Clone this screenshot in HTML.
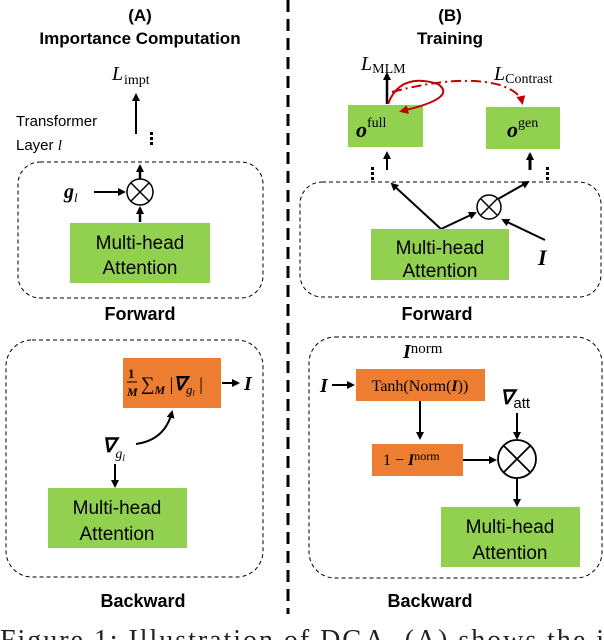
<!DOCTYPE html>
<html><head><meta charset="utf-8"><style>
body{margin:0;background:#fff}
svg{display:block}
.s{font-family:"Liberation Sans",sans-serif}
.m{font-family:"Liberation Serif",serif}
</style></head><body>
<svg width="604" height="640" viewBox="0 0 604 640" xmlns="http://www.w3.org/2000/svg">
<defs>
<marker id="a" markerWidth="8" markerHeight="8" refX="6" refY="4" orient="auto" markerUnits="userSpaceOnUse"><path d="M0,0 L8,4 L0,8 z" fill="#000"/></marker>
<marker id="r" markerWidth="9" markerHeight="9" refX="6" refY="4.5" orient="auto" markerUnits="userSpaceOnUse"><path d="M0,0 L9,4.5 L0,9 z" fill="#c00000"/></marker>
</defs>
<line x1="288" y1="0" x2="288" y2="614" stroke="#000" stroke-width="3" stroke-dasharray="12,7"/>

<!-- A -->
<text x="140" y="21" class="s" font-size="17" font-weight="bold" text-anchor="middle">(A)</text>
<text x="140" y="44" class="s" font-size="17" font-weight="bold" text-anchor="middle">Importance Computation</text>
<text x="112" y="80" class="m" font-size="20" font-style="italic">L</text>
<text x="124" y="84" class="m" font-size="14">impt</text>
<line x1="136" y1="134" x2="136" y2="95" stroke="#000" stroke-width="2" marker-end="url(#a)"/>
<text x="16" y="126" class="s" font-size="15">Transformer</text>
<text x="16" y="150" class="s" font-size="15">Layer <tspan class="m" font-style="italic">l</tspan></text>
<g fill="#000"><rect x="150" y="132" width="3" height="3"/><rect x="150" y="137" width="3" height="3"/><rect x="150" y="142" width="3" height="3"/></g>
<rect x="18" y="162" width="245" height="136" rx="22" fill="none" stroke="#000" stroke-dasharray="4,3"/>
<line x1="140" y1="179" x2="140" y2="166" stroke="#000" stroke-width="2.5" marker-end="url(#a)"/>
<circle cx="140" cy="192" r="13" fill="#fff" stroke="#000" stroke-width="1.5"/>
<path d="M131,183 L149,201 M149,183 L131,201" stroke="#000" stroke-width="1.5"/>
<text x="64" y="198" class="m" font-size="20" font-weight="bold" font-style="italic">g<tspan font-size="13" dy="4" font-weight="normal">l</tspan></text>
<line x1="94" y1="192" x2="124" y2="192" stroke="#000" stroke-width="2" marker-end="url(#a)"/>
<line x1="140" y1="222" x2="140" y2="208" stroke="#000" stroke-width="2.5" marker-end="url(#a)"/>
<rect x="70" y="223" width="140" height="60" fill="#92d050"/>
<text x="140" y="249" class="s" font-size="19" text-anchor="middle">Multi-head</text>
<text x="140" y="274" class="s" font-size="19" text-anchor="middle">Attention</text>
<text x="140" y="320" class="s" font-size="18" font-weight="bold" text-anchor="middle">Forward</text>

<rect x="6" y="340" width="257" height="237" rx="26" fill="none" stroke="#000" stroke-dasharray="4,3"/>
<rect x="123" y="358" width="98" height="50" fill="#ed7d31"/>
<text x="128" y="378" class="m" font-size="13" font-weight="bold">1</text>
<line x1="127" y1="382" x2="137" y2="382" stroke="#000" stroke-width="1"/>
<text x="127" y="396" class="m" font-size="12" font-weight="bold" font-style="italic">M</text>
<text x="141" y="390" class="m" font-size="19">∑<tspan font-size="12" dy="4" font-style="italic" font-weight="bold">M</tspan><tspan dy="-4" font-size="18"> |</tspan><tspan font-weight="bold" font-style="italic">∇</tspan><tspan font-size="13" dy="4" font-style="italic">g</tspan><tspan font-size="8" dy="2" font-style="italic">l</tspan><tspan font-size="18" dy="-6"> |</tspan></text>
<line x1="222" y1="383" x2="238" y2="383" stroke="#000" stroke-width="2" marker-end="url(#a)"/>
<text x="244" y="390" class="m" font-size="20" font-weight="bold" font-style="italic">I</text>
<text x="102" y="452" class="m" font-size="20" font-weight="bold" font-style="italic">∇<tspan font-size="14" dy="6" font-weight="normal">g</tspan><tspan font-size="9" dy="3" font-weight="normal">l</tspan></text>
<path d="M136,444 Q165,440 172,412" fill="none" stroke="#000" stroke-width="2" marker-end="url(#a)"/>
<line x1="115" y1="464" x2="115" y2="486" stroke="#000" stroke-width="2" marker-end="url(#a)"/>
<rect x="48" y="488" width="139" height="60" fill="#92d050"/>
<text x="117" y="514" class="s" font-size="19" text-anchor="middle">Multi-head</text>
<text x="117" y="540" class="s" font-size="19" text-anchor="middle">Attention</text>
<text x="143" y="607" class="s" font-size="18" font-weight="bold" text-anchor="middle">Backward</text>

<!-- B -->
<text x="450" y="21" class="s" font-size="17" font-weight="bold" text-anchor="middle">(B)</text>
<text x="450" y="44" class="s" font-size="17" font-weight="bold" text-anchor="middle">Training</text>
<text x="361" y="70" class="m" font-size="20" font-style="italic">L<tspan font-size="14" dy="3" font-style="normal">MLM</tspan></text>
<text x="494" y="80" class="m" font-size="20" font-style="italic">L<tspan font-size="14" dy="3" font-style="normal">Contrast</tspan></text>
<line x1="387" y1="104" x2="387" y2="74" stroke="#000" stroke-width="2.5" marker-end="url(#a)"/>
<rect x="348" y="105" width="75" height="42" fill="#92d050"/>
<rect x="486" y="107" width="74" height="42" fill="#92d050"/>
<text x="356" y="137" class="m" font-size="22" font-weight="bold" font-style="italic">o<tspan font-size="14" dy="-10" font-weight="normal" font-style="normal">full</tspan></text>
<text x="507" y="137" class="m" font-size="22" font-weight="bold" font-style="italic">o<tspan font-size="14" dy="-10" font-weight="normal" font-style="normal">gen</tspan></text>
<path d="M388,104 Q400,72 438,84 Q458,98 402,111" fill="none" stroke="#c00000" stroke-width="2" marker-end="url(#r)"/>
<path d="M392,92 Q460,74 500,85 Q520,92 522,102" fill="none" stroke="#c00000" stroke-width="2" stroke-dasharray="10,4,2,4" marker-end="url(#r)"/>
<line x1="387" y1="170" x2="387" y2="153" stroke="#000" stroke-width="2" marker-end="url(#a)"/>
<line x1="530" y1="170" x2="530" y2="154" stroke="#000" stroke-width="3" marker-end="url(#a)"/>
<g fill="#000"><rect x="371" y="167" width="3" height="3"/><rect x="371" y="172" width="3" height="3"/><rect x="371" y="177" width="3" height="3"/><rect x="546" y="167" width="3" height="3"/><rect x="546" y="172" width="3" height="3"/><rect x="546" y="177" width="3" height="3"/></g>
<rect x="300" y="182" width="301" height="115" rx="22" fill="none" stroke="#000" stroke-dasharray="4,3"/>
<line x1="441" y1="229" x2="392" y2="184" stroke="#000" stroke-width="2" marker-end="url(#a)"/>
<line x1="441" y1="229" x2="475" y2="213" stroke="#000" stroke-width="2" marker-end="url(#a)"/>
<line x1="498" y1="199" x2="528" y2="182" stroke="#000" stroke-width="2" marker-end="url(#a)"/>
<line x1="545" y1="240" x2="503" y2="220" stroke="#000" stroke-width="2" marker-end="url(#a)"/>
<circle cx="489" cy="207" r="12" fill="#fff" stroke="#000" stroke-width="1.5"/>
<path d="M481,199 L497,215 M497,199 L481,215" stroke="#000" stroke-width="1.5"/>
<text x="538" y="265" class="m" font-size="22" font-weight="bold" font-style="italic">I</text>
<rect x="371" y="229" width="138" height="51" fill="#92d050"/>
<text x="440" y="254" class="s" font-size="19" text-anchor="middle">Multi-head</text>
<text x="440" y="277" class="s" font-size="19" text-anchor="middle">Attention</text>
<text x="437" y="320" class="s" font-size="18" font-weight="bold" text-anchor="middle">Forward</text>

<rect x="309" y="337" width="293" height="241" rx="26" fill="none" stroke="#000" stroke-dasharray="4,3"/>
<text x="403" y="358" class="m" font-size="20" font-weight="bold" font-style="italic">I<tspan font-size="15" dy="-5" font-weight="normal" font-style="normal">norm</tspan></text>
<text x="320" y="392" class="m" font-size="20" font-weight="bold" font-style="italic">I</text>
<line x1="332" y1="385" x2="353" y2="385" stroke="#000" stroke-width="2" marker-end="url(#a)"/>
<rect x="356" y="369" width="129" height="32" fill="#ed7d31"/>
<text x="420" y="391" class="m" font-size="16" text-anchor="middle">Tanh(Norm(<tspan font-style="italic" font-weight="bold">I</tspan>))</text>
<line x1="420" y1="401" x2="420" y2="438" stroke="#000" stroke-width="2" marker-end="url(#a)"/>
<rect x="372" y="444" width="91" height="32" fill="#ed7d31"/>
<text x="383" y="465" class="m" font-size="16">1 − <tspan font-style="italic" font-weight="bold">I</tspan><tspan font-size="12" dy="-5">norm</tspan></text>
<line x1="463" y1="460" x2="495" y2="460" stroke="#000" stroke-width="2" marker-end="url(#a)"/>
<text x="500" y="404" class="m" font-size="20" font-weight="bold" font-style="italic">∇<tspan class="s" font-size="15" dy="4" font-weight="normal" font-style="normal">att</tspan></text>
<line x1="517" y1="413" x2="517" y2="438" stroke="#000" stroke-width="2" marker-end="url(#a)"/>
<ellipse cx="517" cy="459" rx="19" ry="19" fill="#fff" stroke="#000" stroke-width="1.8"/>
<path d="M504,446 L530,472 M530,446 L504,472" stroke="#000" stroke-width="1.8"/>
<line x1="517" y1="478" x2="517" y2="505" stroke="#000" stroke-width="2" marker-end="url(#a)"/>
<rect x="441" y="507" width="139" height="60" fill="#92d050"/>
<text x="510" y="533" class="s" font-size="19" text-anchor="middle">Multi-head</text>
<text x="510" y="559" class="s" font-size="19" text-anchor="middle">Attention</text>
<text x="430" y="607" class="s" font-size="18" font-weight="bold" text-anchor="middle">Backward</text>

<text x="0" y="649" class="m" font-size="28" fill="#222" textLength="604" lengthAdjust="spacing">Figure 1:  Illustration of DGA. (A) shows the i</text>
</svg>
</body></html>
